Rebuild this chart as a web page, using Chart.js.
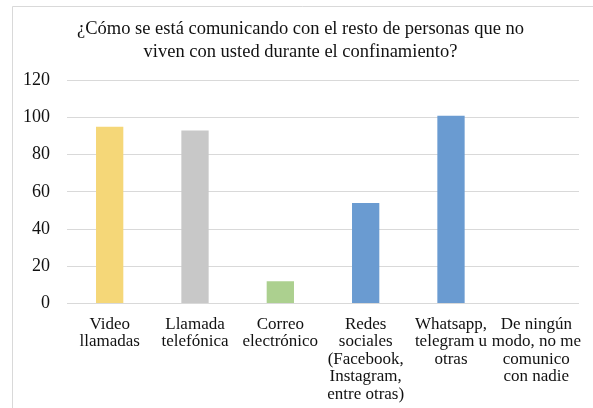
<!DOCTYPE html>
<html>
<head>
<meta charset="utf-8">
<script src="https://cdn.jsdelivr.net/npm/chart.js@4"></script>
<style>
  html, body { margin: 0; padding: 0; background: #fff; }
  #wrap { position: relative; width: 593px; height: 408px; }
</style>
</head>
<body>
<div id="wrap"><canvas id="chart" width="593" height="408"></canvas></div>
<script>
// data
const categories = [
  ["Video", "llamadas"],
  ["Llamada", "telefónica"],
  ["Correo", "electrónico"],
  ["Redes", "sociales", "(Facebook,", "Instagram,", "entre otras)"],
  ["Whatsapp,", "telegram u", "otras"],
  ["De ningún", "modo, no me", "comunico", "con nadie"]
];
const values = [95, 93, 12, 54, 101, 0];
const barColors = ["#f5d778", "#c8c8c8", "#acd08f", "#6a9bd1", "#6a9bd1", "#6a9bd1"];
const yTicks = [0, 20, 40, 60, 80, 100, 120];
const title = [
  "¿Cómo se está comunicando con el resto de personas que no",
  "viven con usted durante el confinamiento?"
];

const serif = "'Liberation Serif', 'Times New Roman', serif";

// light frame like the spreadsheet chart area
const frame = {
  id: 'frame',
  beforeDraw(chart) {
    const ctx = chart.ctx;
    ctx.save();
    ctx.fillStyle = '#fff';
    ctx.fillRect(0, 0, chart.width, chart.height);
    ctx.strokeStyle = '#d9d9d9';
    ctx.lineWidth = 1;
    ctx.beginPath();
    ctx.moveTo(12.5, chart.height);
    ctx.lineTo(12.5, 6.5);
    ctx.lineTo(chart.width, 6.5);
    ctx.stroke();
    ctx.restore();
  }
};

new Chart(document.getElementById('chart'), {
  type: 'bar',
  data: {
    labels: categories,
    datasets: [{
      data: values,
      backgroundColor: barColors,
      barPercentage: 0.32,
      categoryPercentage: 1
    }]
  },
  options: {
    responsive: false,
    animation: false,
    layout: { padding: { left: 22, right: 14, top: 17, bottom: 1 } },
    plugins: {
      legend: { display: false },
      tooltip: { enabled: false },
      title: {
        display: true,
        text: title,
        color: '#111',
        font: { family: serif, size: 18.5, weight: 'normal', lineHeight: 1.28 },
        padding: { top: 0, bottom: 16 }
      }
    },
    scales: {
      x: {
        grid: { display: false },
        border: { display: false },
        ticks: {
          color: '#111',
          maxRotation: 0,
          autoSkip: false,
          padding: 4,
          font: { family: serif, size: 17, lineHeight: 1.03 }
        }
      },
      y: {
        min: 0,
        max: 120,
        afterBuildTicks(axis) { axis.ticks = yTicks.map(v => ({ value: v })); },
        afterFit(axis) { axis.width = 45; },
        grid: { color: '#d9d9d9', lineWidth: 1, drawTicks: false },
        border: { display: false },
        ticks: {
          color: '#111',
          padding: 17,
          font: { family: serif, size: 18 }
        }
      }
    }
  },
  plugins: [frame]
});
</script>
</body>
</html>
